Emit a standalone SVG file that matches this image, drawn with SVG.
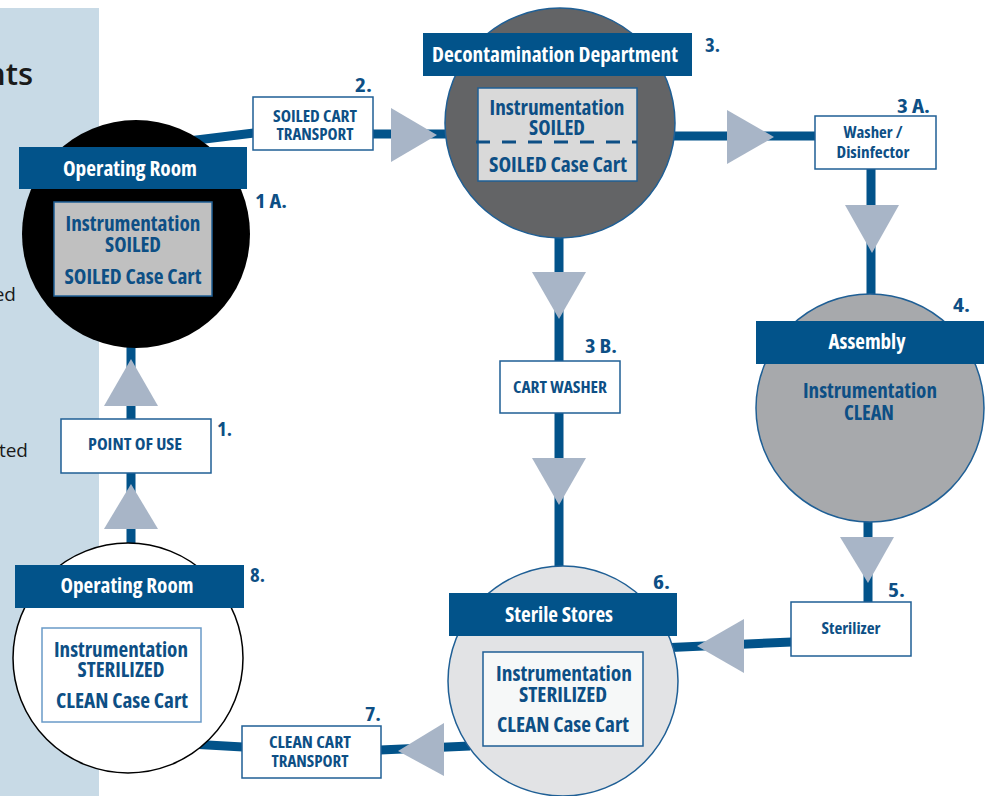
<svg xmlns="http://www.w3.org/2000/svg" width="992" height="796" viewBox="0 0 992 796">
<style>
.ln{stroke:#02538a;stroke-width:9;fill:none}
.ar{fill:#a8b5c7}
.hd{fill:#02538a}
.ht{font-family:"Open Sans","DejaVu Sans",sans-serif;font-weight:bold;font-stretch:condensed;font-size:22px;fill:#ffffff;text-anchor:middle}
.bt{font-family:"Open Sans","DejaVu Sans",sans-serif;font-weight:bold;font-stretch:condensed;font-size:21px;fill:#0d4f85;text-anchor:middle}
.st{font-family:"Open Sans","DejaVu Sans",sans-serif;font-weight:bold;font-stretch:condensed;font-size:16.5px;fill:#0d4f85;text-anchor:middle}
.nm{font-family:"Open Sans","DejaVu Sans",sans-serif;font-weight:bold;font-stretch:condensed;font-size:19px;fill:#0d4f85}
.bx{fill:#ffffff;stroke:#1f5f95;stroke-width:1.5}
.side{font-family:"Open Sans","DejaVu Sans",sans-serif;fill:#1a1a1a;text-anchor:end}
</style>
<rect x="0" y="8" width="99" height="788" fill="#c8dae6"/>
<text class="side" x="33" y="85" font-size="31" font-weight="600">nts</text>
<text class="side" x="16" y="301" font-size="19">ed</text>
<text class="side" x="28" y="457" font-size="19">ted</text>

<g id="connectors">
<line class="ln" x1="180" y1="142" x2="254" y2="133"/>
<line class="ln" x1="372" y1="134" x2="470" y2="134"/>
<line class="ln" x1="650" y1="136" x2="816" y2="136"/>
<line class="ln" x1="871" y1="168" x2="871" y2="300"/>
<line class="ln" x1="868" y1="510" x2="868" y2="603"/>
<line class="ln" x1="792" y1="642" x2="660" y2="648"/>
<line class="ln" x1="470" y1="746" x2="380" y2="750"/>
<line class="ln" x1="243" y1="747" x2="190" y2="744"/>
<line class="ln" x1="131" y1="560" x2="131" y2="330"/>
<line class="ln" x1="559" y1="220" x2="559" y2="580"/>
<polygon class="ar" points="391,108 391,162 437,135"/>
<polygon class="ar" points="727,110 727,164 774,137"/>
<polygon class="ar" points="845,205 899,205 872,253"/>
<polygon class="ar" points="840,537 894,537 868,583"/>
<polygon class="ar" points="744,619 744,673 697,646"/>
<polygon class="ar" points="444,723 444,776 398,751"/>
<polygon class="ar" points="104,406 158,406 131,359"/>
<polygon class="ar" points="104,529 158,529 131,484"/>
<polygon class="ar" points="532,272 586,272 559,319"/>
<polygon class="ar" points="532,458 586,458 559,505"/>
</g>

<g id="node-1a">
<circle cx="136" cy="234" r="114" fill="#000000"/>
<rect class="hd" x="19" y="147" width="228" height="42"/>
<text class="ht" x="130" y="176" textLength="134" lengthAdjust="spacingAndGlyphs">Operating Room</text>
<rect x="54" y="202" width="158" height="94" fill="#c0c0c0" stroke="#1f5f95" stroke-width="1.5"/>
<text class="bt" x="133" y="231" textLength="135" lengthAdjust="spacingAndGlyphs">Instrumentation</text>
<text class="bt" x="133" y="252" textLength="56" lengthAdjust="spacingAndGlyphs">SOILED</text>
<text class="bt" x="133" y="284" textLength="137" lengthAdjust="spacingAndGlyphs">SOILED Case Cart</text>
<text class="nm" x="255" y="208" textLength="32" lengthAdjust="spacingAndGlyphs">1 A.</text>
</g>

<g id="node-2">
<rect class="bx" x="253" y="97" width="120" height="53"/>
<text class="st" x="315" y="122" textLength="84" lengthAdjust="spacingAndGlyphs">SOILED CART</text>
<text class="st" x="315" y="140" textLength="77" lengthAdjust="spacingAndGlyphs">TRANSPORT</text>
<text class="nm" x="355" y="92" textLength="17" lengthAdjust="spacingAndGlyphs">2.</text>
</g>

<g id="node-3">
<circle cx="560" cy="123" r="115" fill="#636466" stroke="#1f5f95" stroke-width="1.5"/>
<rect class="hd" x="423" y="33" width="269" height="43"/>
<text class="ht" x="555" y="62" textLength="246" lengthAdjust="spacingAndGlyphs">Decontamination Department</text>
<rect x="478" y="88" width="159" height="93" fill="#d9d9d9" stroke="#1f5f95" stroke-width="1.5"/>
<text class="bt" x="557" y="115" textLength="135" lengthAdjust="spacingAndGlyphs">Instrumentation</text>
<text class="bt" x="557" y="135" textLength="56" lengthAdjust="spacingAndGlyphs">SOILED</text>
<line x1="476" y1="142" x2="637" y2="142" stroke="#0d4f85" stroke-width="3" stroke-dasharray="14,12"/>
<text class="bt" x="558" y="172" textLength="138" lengthAdjust="spacingAndGlyphs">SOILED Case Cart</text>
<text class="nm" x="705" y="52" textLength="15" lengthAdjust="spacingAndGlyphs">3.</text>
</g>

<g id="node-3a">
<rect class="bx" x="815" y="116" width="121" height="53"/>
<text class="st" x="873" y="138" textLength="59" lengthAdjust="spacingAndGlyphs">Washer /</text>
<text class="st" x="873" y="158" textLength="73" lengthAdjust="spacingAndGlyphs">Disinfector</text>
<text class="nm" x="897" y="113" textLength="33" lengthAdjust="spacingAndGlyphs">3 A.</text>
</g>

<g id="node-3b">
<rect class="bx" x="500" y="361" width="120" height="52"/>
<text class="st" x="560" y="393" textLength="94" lengthAdjust="spacingAndGlyphs">CART WASHER</text>
<text class="nm" x="585" y="353" textLength="32" lengthAdjust="spacingAndGlyphs">3 B.</text>
</g>

<g id="node-4">
<circle cx="870" cy="408" r="114" fill="#a7a9ac" stroke="#1f5f95" stroke-width="1.5"/>
<rect class="hd" x="756" y="321" width="228" height="43"/>
<text class="ht" x="867" y="349" textLength="77" lengthAdjust="spacingAndGlyphs">Assembly</text>
<text class="bt" x="870" y="398" textLength="134" lengthAdjust="spacingAndGlyphs">Instrumentation</text>
<text class="bt" x="869" y="420" textLength="50" lengthAdjust="spacingAndGlyphs">CLEAN</text>
<text class="nm" x="953" y="312" textLength="17" lengthAdjust="spacingAndGlyphs">4.</text>
</g>

<g id="node-5">
<rect class="bx" x="791" y="602" width="120" height="54"/>
<text class="st" x="851" y="634" font-size="17.5" textLength="59" lengthAdjust="spacingAndGlyphs">Sterilizer</text>
<text class="nm" x="888" y="597" textLength="17" lengthAdjust="spacingAndGlyphs">5.</text>
</g>

<g id="node-6">
<circle cx="563" cy="681" r="115" fill="#e2e3e5" stroke="#1f5f95" stroke-width="1.5"/>
<rect class="hd" x="449" y="593" width="228" height="43"/>
<text class="ht" x="559" y="622" textLength="108" lengthAdjust="spacingAndGlyphs">Sterile Stores</text>
<rect x="483" y="652" width="160" height="94" fill="#f6f8f8" stroke="#1f5f95" stroke-width="1.5"/>
<text class="bt" x="564" y="681" textLength="136" lengthAdjust="spacingAndGlyphs">Instrumentation</text>
<text class="bt" x="563" y="702" textLength="88" lengthAdjust="spacingAndGlyphs">STERILIZED</text>
<text class="bt" x="563" y="732" textLength="132" lengthAdjust="spacingAndGlyphs">CLEAN Case Cart</text>
<text class="nm" x="653" y="589" textLength="17" lengthAdjust="spacingAndGlyphs">6.</text>
</g>

<g id="node-7">
<rect class="bx" x="242" y="726" width="139" height="52"/>
<text class="st" x="310" y="748" textLength="82" lengthAdjust="spacingAndGlyphs">CLEAN CART</text>
<text class="st" x="310" y="767" textLength="77" lengthAdjust="spacingAndGlyphs">TRANSPORT</text>
<text class="nm" x="365" y="721" textLength="16" lengthAdjust="spacingAndGlyphs">7.</text>
</g>

<g id="node-8">
<circle cx="128" cy="658" r="115" fill="#ffffff" stroke="#000000" stroke-width="1.5"/>
<rect class="hd" x="15" y="565" width="229" height="43"/>
<text class="ht" x="127" y="593" textLength="133" lengthAdjust="spacingAndGlyphs">Operating Room</text>
<rect x="42" y="628" width="159" height="94" fill="#ffffff" stroke="#6a9ac8" stroke-width="1.5"/>
<text class="bt" x="121" y="657" textLength="134" lengthAdjust="spacingAndGlyphs">Instrumentation</text>
<text class="bt" x="121" y="677" textLength="87" lengthAdjust="spacingAndGlyphs">STERILIZED</text>
<text class="bt" x="122" y="708" textLength="132" lengthAdjust="spacingAndGlyphs">CLEAN Case Cart</text>
<text class="nm" x="250" y="582" textLength="15" lengthAdjust="spacingAndGlyphs">8.</text>
</g>

<g id="node-1">
<rect class="bx" x="61" y="419" width="150" height="54"/>
<text class="st" x="135" y="450" textLength="94" lengthAdjust="spacingAndGlyphs">POINT OF USE</text>
<text class="nm" x="217" y="436" textLength="15" lengthAdjust="spacingAndGlyphs">1.</text>
</g>
</svg>
